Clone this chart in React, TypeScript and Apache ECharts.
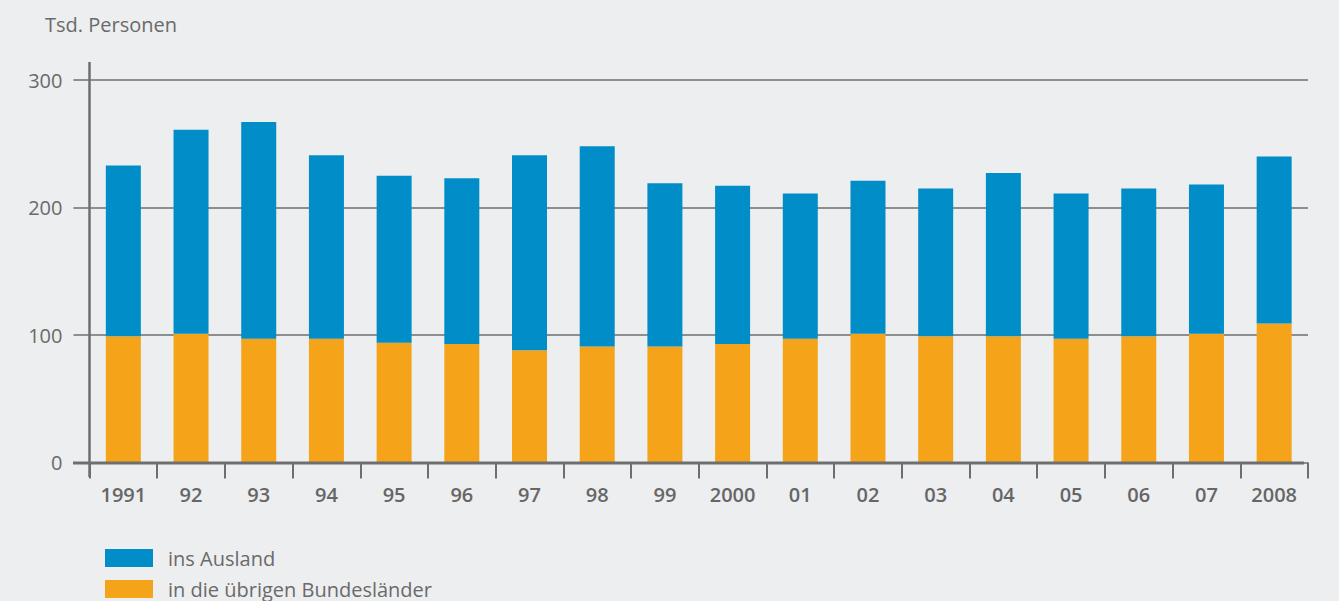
import React, { useEffect, useRef } from "react";
import * as echarts from "echarts";

const categories = ["1991", "92", "93", "94", "95", "96", "97", "98", "99", "2000", "01", "02", "03", "04", "05", "06", "07", "2008"];
const bundeslaender = [99, 101, 97, 97, 94, 93, 88, 91, 91, 93, 97, 101, 99, 99, 97, 99, 101, 109];
const ausland = [134, 160, 170, 144, 131, 130, 153, 157, 128, 124, 114, 120, 116, 128, 114, 116, 117, 131];
const yTicks = [0, 100, 200, 300];
const legendNames = ["ins Ausland", "in die übrigen Bundesländer"];

const BLUE = "#008dc8";
const ORANGE = "#f5a41a";
const AXIS = "#6e6e6e";
const FONT = "'Open Sans', sans-serif";

export default function App() {
  const ref = useRef<HTMLDivElement>(null);
  useEffect(() => {
    document.body.style.margin = "0";
    const chart = echarts.init(ref.current!, null, { renderer: "svg" });
    const legendBase = {
      orient: "horizontal",
      left: 105,
      padding: 0,
      itemWidth: 48,
      itemHeight: 18,
      icon: "rect",
      textStyle: { fontFamily: FONT, fontSize: 20, color: "#6a6a6a", padding: [0, 0, 0, 10] },
    };
    chart.setOption({
      animation: false,
      backgroundColor: "#edeef0",
      textStyle: { fontFamily: FONT },
      grid: { left: 89.5, right: 31, top: 80, bottom: 138.5, containLabel: false },
      title: {
        text: "Tsd. Personen",
        left: 40,
        top: 9,
        textStyle: { fontFamily: FONT, fontSize: 20, fontWeight: "normal", color: "#6a6a6a" },
      },
      legend: [
        { ...legendBase, top: 548, data: [legendNames[0]] },
        { ...legendBase, top: 579, data: [legendNames[1]] },
      ],
      xAxis: {
        type: "category",
        data: categories,
        axisLine: { show: false },
        axisTick: { show: true, length: 16, lineStyle: { color: AXIS, width: 2 } },
        axisLabel: { margin: 22, fontFamily: FONT, fontSize: 20, fontWeight: 600, color: "#666666" },
      },
      yAxis: {
        type: "value",
        min: 0,
        max: 300,
        interval: 100,
        axisLine: { show: false },
        axisTick: { show: true, length: 16, lineStyle: { color: AXIS, width: 1.5 } },
        axisLabel: {
          margin: 27,
          fontFamily: FONT,
          fontSize: 20,
          color: "#6a6a6a",
          formatter: (v: number) => (yTicks.includes(v) ? String(v) : ""),
        },
        splitLine: { show: true, lineStyle: { color: AXIS, width: 1.5 } },
      },
      series: [
        {
          name: legendNames[1],
          type: "bar",
          stack: "total",
          data: bundeslaender,
          barWidth: 35,
          itemStyle: { color: ORANGE },
        },
        {
          name: legendNames[0],
          type: "bar",
          stack: "total",
          data: ausland,
          barWidth: 35,
          itemStyle: { color: BLUE },
        },
      ],
      graphic: [
        {
          type: "line",
          shape: { x1: 89.5, y1: 62, x2: 89.5, y2: 477 },
          style: { stroke: AXIS, lineWidth: 2.5 },
          z: 10,
        },
        {
          type: "line",
          shape: { x1: 73, y1: 463, x2: 1304, y2: 463 },
          style: { stroke: AXIS, lineWidth: 3 },
          z: 10,
        },
      ],
    });
    return () => chart.dispose();
  }, []);
  return <div ref={ref} style={{ width: 1339, height: 601 }} />;
}
